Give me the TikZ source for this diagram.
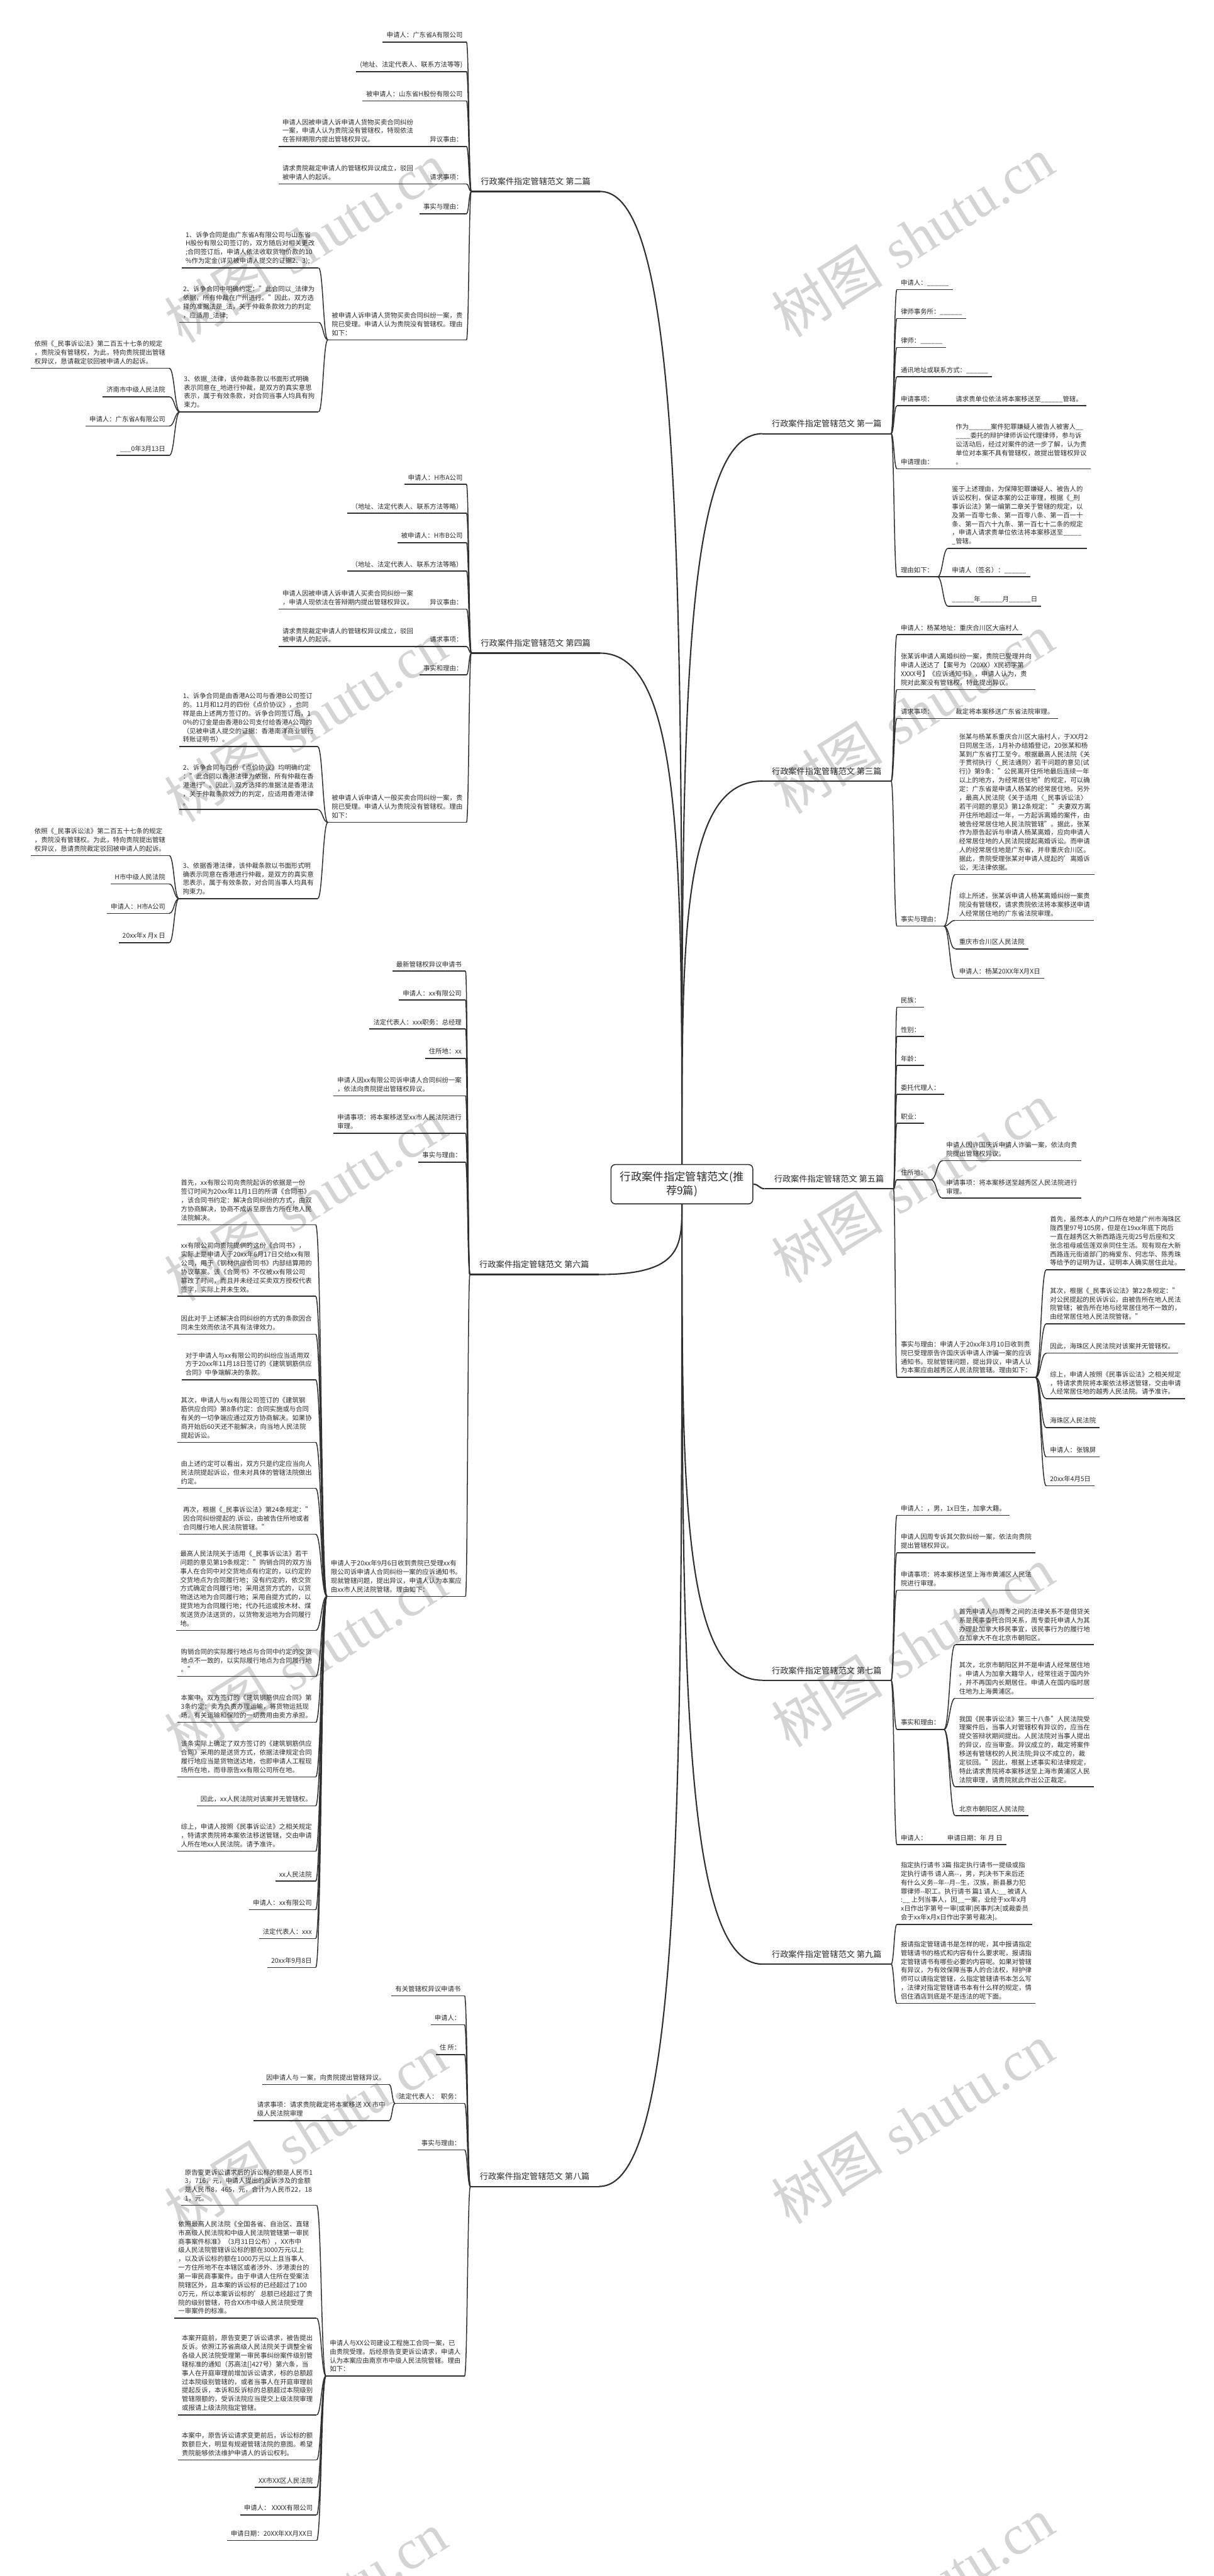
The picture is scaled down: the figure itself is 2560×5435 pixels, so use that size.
\documentclass[tikz,border=0pt]{standalone}
\usepackage{fontspec}
\setmainfont{Noto Sans CJK SC}
\newfontfamily\wmlatin{Liberation Serif}
\usetikzlibrary{calc}
\definecolor{txt}{HTML}{2B2B2B}
\definecolor{ln}{HTML}{303030}
\definecolor{wm}{HTML}{D4D4D4}
\newcommand\lff{\fontsize{13.8pt}{18.4pt}\selectfont}
\newcommand\bff{\fontsize{17.5pt}{23pt}\selectfont}
\newcommand\cff{\fontsize{23pt}{30pt}\selectfont}
\newcommand\wmf{\fontsize{118pt}{118pt}\selectfont}
\newcommand\mybl{\_\_\_\_\_\_}
\begin{document}
\begin{tikzpicture}[x=1pt,y=-1pt,
  ul/.style={draw=ln,line width=2pt},
  bul/.style={draw=ln,line width=2.8pt},
  lf/.style={inner xsep=8pt,inner ysep=3.7pt,align=left,font=\lff,text=txt,
    execute at end node={\strut},
    append after command={(\tikzlastnode.south west) edge[ul] (\tikzlastnode.south east)}},
  lnl/.style={lf,anchor=south east},
  lnr/.style={lf,anchor=south west},
  lab/.style={inner xsep=20pt,inner ysep=6.95pt,align=left,font=\bff,text=txt,
    execute at end node={\strut},
    append after command={(\tikzlastnode.south west) edge[bul] (\tikzlastnode.south east)}},
  labl/.style={lab,anchor=south east},
  labr/.style={lab,anchor=south west},
  sp/.style={to path={let \p1=(\tikztostart), \p2=(\tikztotarget) in
     .. controls ({(\x1+\x2)/2},\y1) and ({(\x1+\x2)/2},\y2) .. (\tikztotarget)}},
  cn/.style={sp,draw=ln,line width=2pt},
  br/.style={draw=ln,line width=2.8pt},
  ctrbox/.style={draw=ln,line width=2pt,rounded corners=9pt,fill=white,
    minimum width=299pt,minimum height=83pt,align=center,font=\cff,text=txt,inner sep=0pt},
  wmk/.style={rotate=32,text=wm,font=\wmf,inner sep=0pt}
]
\useasboundingbox (0,0) rectangle (2560,5435);
\fill[white] (0,0) rectangle (2560,5435);

% watermarks
\foreach \x/\y [count=\i] in {645/512,645/1522,645/2533,645/3500,645/4500,645/5510,
  1925/500,1925/1505,1925/2495,1925/3475,1925/4480,1925/5480}
  \node[wmk,name=wm\i] at (\x,\y) {树图\hspace{0.3em}{\wmlatin shutu.cn}};

% centre
\node[ctrbox] (ctr) at (1438.5,2498.5) {行政案件指定管辖范文(推\\荐9篇)};

% ---------------- 第二篇 ----------------
\node[labl] (L2) at (1266,404) {行政案件指定管辖范文 第二篇};
\node[lnl] (a2) at (984,89) {申请人：广东省A有限公司};
\node[lnl] (b2) at (984,151) {(地址、法定代表人、联系方法等等)};
\node[lnl] (c2) at (984,213) {被申请人：山东省H股份有限公司};
\node[lnl] (d2) at (984,309) {异议事由：};
\node[lnl] (d2c) at (880,309) {申请人因被申请人诉申请人货物买卖合同纠纷\\一案，申请人认为贵院没有管辖权，特现依法\\在答辩期限内提出管辖权异议。};
\node[lnl] (e2) at (984,388) {请求事项：};
\node[lnl] (e2c) at (880,388) {请求贵院裁定申请人的管辖权异议成立，驳回\\被申请人的起诉。};
\node[lnl] (f2) at (984,451) {事实与理由：};
\node[lnl] (g2) at (984,717) {被申请人诉申请人货物买卖合同纠纷一案，贵\\院已受理。申请人认为贵院没有管辖权。理由\\如下：};
\node[lnl] (g2a) at (672,565) {1、诉争合同是由广东省A有限公司与山东省\\H股份有限公司签订的，双方随后对相关更改\\;合同签订后，申请人依法收取货物价款的10\\\%作为定金(详见被申请人提交的证据2、3);};
\node[lnl] (g2b) at (672,680) {2、诉争合同中明确约定："此合同以\_法律为\\依据，所有仲裁在广州进行。"因此，双方选\\择的准据法是\_法，关于仲裁条款效力的判定\\，应适用\_法律;};
\node[lnl] (g2c) at (672,869) {3、依据\_法律，该仲裁条款以书面形式明确\\表示同意在\_地进行仲裁，是双方的真实意思\\表示，属于有效条款，对合同当事人均具有拘\\束力。};
\node[lnl] (h21) at (357,777) {依照《\_民事诉讼法》第二百五十七条的规定\\，贵院没有管辖权，为此，特向贵院提出管辖\\权异议，恳请裁定驳回被申请人的起诉。};
\node[lnl] (h22) at (357,837) {济南市中级人民法院};
\node[lnl] (h23) at (357,899) {申请人：广东省A有限公司};
\node[lnl] (h24) at (357,961) {\_\_\_0年3月13日};
\foreach \c in {a2,b2,c2,d2,e2,f2,g2} \draw[cn] (L2.south west) to (\c.south east);
\draw[cn] (d2.south west) to (d2c.south east);
\draw[cn] (e2.south west) to (e2c.south east);
\foreach \c in {g2a,g2b,g2c} \draw[cn] (g2.south west) to (\c.south east);
\foreach \c in {h21,h22,h23,h24} \draw[cn] (g2c.south west) to (\c.south east);

% ---------------- 第四篇 ----------------
\node[labl] (L4) at (1266,1378) {行政案件指定管辖范文 第四篇};
\node[lnl] (a4) at (984,1022) {申请人：H市A公司};
\node[lnl] (b4) at (984,1083) {（地址、法定代表人、联系方法等略）};
\node[lnl] (c4) at (984,1145) {被申请人：H市B公司};
\node[lnl] (d4) at (984,1205) {（地址、法定代表人、联系方法等略）};
\node[lnl] (e4) at (984,1285) {异议事由：};
\node[lnl] (e4c) at (880,1285) {申请人因被申请人诉申请人买卖合同纠纷一案\\，申请人现依法在答辩期内提出管辖权异议。};
\node[lnl] (f4) at (984,1364) {请求事项：};
\node[lnl] (f4c) at (880,1364) {请求贵院裁定申请人的管辖权异议成立，驳回\\被申请人的起诉。};
\node[lnl] (g4) at (984,1424) {事实和理由：};
\node[lnl] (h4) at (984,1735) {被申请人诉申请人一般买卖合同纠纷一案，贵\\院已受理。申请人认为贵院没有管辖权。理由\\如下：};
\node[lnl] (h4a) at (670,1575) {1、诉争合同是由香港A公司与香港B公司签订\\的。11月和12月的四份《点价协议》，也同\\样是由上述两方签订的。诉争合同签订后，1\\0\%的订金是由香港B公司支付给香港A公司的\\（见被申请人提交的证据：香港南洋商业银行\\转账证明书）。};
\node[lnl] (h4b) at (670,1708) {2、诉争合同与四份《点价协议》均明确约定\\："此合同以香港法律为依据，所有仲裁在香\\港进行"。因此，双方选择的准据法是香港法\\，关于仲裁条款效力的判定，应适用香港法律\\。};
\node[lnl] (h4c) at (670,1896) {3、依据香港法律，该仲裁条款以书面形式明\\确表示同意在香港进行仲裁，是双方的真实意\\思表示，属于有效条款，对合同当事人均具有\\拘束力。};
\node[lnl] (j41) at (357,1805) {依照《\_民事诉讼法》第二百五十七条的规定\\，贵院没有管辖权。为此，特向贵院提出管辖\\权异议，恳请贵院裁定驳回被申请人的起诉。};
\node[lnl] (j42) at (357,1865) {H市中级人民法院};
\node[lnl] (j43) at (357,1927) {申请人：H市A公司};
\node[lnl] (j44) at (357,1989) {20xx年x 月x 日};
\foreach \c in {a4,b4,c4,d4,e4,f4,g4,h4} \draw[cn] (L4.south west) to (\c.south east);
\draw[cn] (e4.south west) to (e4c.south east);
\draw[cn] (f4.south west) to (f4c.south east);
\foreach \c in {h4a,h4b,h4c} \draw[cn] (h4.south west) to (\c.south east);
\foreach \c in {j41,j42,j43,j44} \draw[cn] (h4c.south west) to (\c.south east);

% ---------------- 第六篇 ----------------
\node[labl] (L6) at (1263,2689) {行政案件指定管辖范文 第六篇};
\node[lnl] (a6) at (982,2049) {最新管辖权异议申请书};
\node[lnl] (b6) at (982,2110) {申请人：xx有限公司};
\node[lnl] (c6) at (982,2171) {法定代表人：xxx职务：总经理};
\node[lnl] (d6) at (982,2233) {住所地：xx};
\node[lnl] (e6) at (982,2312) {申请人因xx有限公司诉申请人合同纠纷一案\\，依法向贵院提出管辖权异议。};
\node[lnl] (f6) at (982,2391) {申请事项：将本案移送至xx市人民法院进行\\审理。};
\node[lnl] (g6) at (982,2452) {事实与理由：};
\node[lnl] (h6) at (982,3368) {申请人于20xx年9月6日收到贵院已受理xx有\\限公司诉申请人合同纠纷一案的应诉通知书。\\现就管辖问题，提出异议，申请人认为本案应\\由xx市人民法院管辖。理由如下：};
\node[lnl] (k1) at (666,2584) {首先，xx有限公司向贵院起诉的依据是一份\\签订时间为20xx年11月1日的所谓《合同书》\\，该合同书约定：解决合同纠纷的方式，由双\\方协商解决，协商不成诉至原告方所在地人民\\法院解决。};
\node[lnl] (k2) at (666,2735) {xx有限公司向贵院提供的这份《合同书》，\\实际上是申请人于20xx年6月17日交给xx有限\\公司，用于《钢材供应合同书》内部结算用的\\协议草案。该《合同书》不仅被xx有限公司\\篡改了时间，而且并未经过买卖双方授权代表\\签字，实际上并未生效。};
\node[lnl] (k3) at (666,2815) {因此对于上述解决合同纠纷的方式的条款因合\\同未生效而依法不具有法律效力。};
\node[lnl] (k4) at (666,2911) {对于申请人与xx有限公司的纠纷应当适用双\\方于20xx年11月18日签订的《建筑钢筋供应\\合同》中争端解决的条款。};
\node[lnl] (k5) at (666,3043) {其次，申请人与xx有限公司签订的《建筑钢\\筋供应合同》第8条约定：合同实施或与合同\\有关的一切争端应通过双方协商解决。如果协\\商开始后60天还不能解决，向当地人民法院\\提起诉讼。};
\node[lnl] (k6) at (666,3140) {由上述约定可以看出，双方只是约定应当向人\\民法院提起诉讼，但未对具体的管辖法院做出\\约定。};
\node[lnl] (k7) at (666,3237) {再次，根据《\_民事诉讼法》第24条规定："\\因合同纠纷提起的.诉讼，由被告住所地或者\\合同履行地人民法院管辖。"};
\node[lnl] (k8) at (666,3440) {最高人民法院关于适用《\_民事诉讼法》若干\\问题的意见第19条规定："购销合同的双方当\\事人在合同中对交货地点有约定的，以约定的\\交货地点为合同履行地；没有约定的，依交货\\方式确定合同履行地；采用送货方式的，以货\\物送达地为合同履行地；采用自提方式的，以\\提货地为合同履行地；代办托运或按木材、煤\\炭送货办法送货的，以货物发运地为合同履行\\地。};
\node[lnl] (k9) at (666,3537) {购销合同的实际履行地点与合同中约定的交货\\地点不一致的，以实际履行地点为合同履行地\\。"};
\node[lnl] (k10) at (666,3634) {本案中，双方签订的《建筑钢筋供应合同》第\\3条约定：卖方负责办理运输，将货物运抵现\\场。有关运输和保险的一切费用由卖方承担。};
\node[lnl] (k11) at (666,3749) {该条实际上确定了双方签订的《建筑钢筋供应\\合同》采用的是送货方式，依据法律规定合同\\履行地应当是货物送达地，也即申请人工程现\\场所在地，而非原告xx有限公司所在地。};
\node[lnl] (k12) at (666,3810) {因此，xx人民法院对该案并无管辖权。};
\node[lnl] (k13) at (666,3906) {综上，申请人按照《民事诉讼法》之相关规定\\，特请求贵院将本案依法移送管辖，交由申请\\人所在地xx人民法院。请予准许。};
\node[lnl] (k14) at (666,3969) {xx人民法院};
\node[lnl] (k15) at (666,4029) {申请人：xx有限公司};
\node[lnl] (k16) at (666,4090) {法定代表人：xxx};
\node[lnl] (k17) at (666,4151) {20xx年9月8日};
\foreach \c in {a6,b6,c6,d6,e6,f6,g6,h6} \draw[cn] (L6.south west) to (\c.south east);
\foreach \c in {k1,k2,k3,k4,k5,k6,k7,k8,k9,k10,k11,k12,k13,k14,k15,k16,k17}
  \draw[cn] (h6.south west) to (\c.south east);

% ---------------- 第八篇 ----------------
\node[labl] (L8) at (1264,4613) {行政案件指定管辖范文 第八篇};
\node[lnl] (a8) at (980,4211) {有关管辖权异议申请书};
\node[lnl] (b8) at (980,4272) {申请人：};
\node[lnl] (c8) at (980,4335) {住 所：};
\node[lnl] (d8) at (980,4438) {法定代表人：~~职务：};
\node[lnl] (d8a) at (821,4398) {因申请人与 一案，向贵院提出管辖异议。};
\node[lnl] (d8b) at (821,4474) {请求事项：请求贵院裁定将本案移送 XX 市中\\级人民法院审理};
\node[lnl] (e8) at (980,4536) {事实与理由：};
\node[lnl] (f8) at (980,5013) {申请人与XX公司建设工程施工合同一案，已\\由贵院受理。后经原告变更诉讼请求，申请人\\认为本案应由南京市中级人民法院管辖。理由\\如下：};
\node[lnl] (m1) at (668,4653) {原告变更诉讼请求后的诉讼标的额是人民币1\\3，716，元，申请人提出的反诉涉及的金额\\是人民币8，465，元，合计为人民币22，18\\1，元。};
\node[lnl] (m2) at (668,4891) {依照最高人民法院《全国各省、自治区、直辖\\市高级人民法院和中级人民法院管辖第一审民\\商事案件标准》（3月31日公布），XX市中\\级人民法院管辖诉讼标的额在3000万元以上\\，以及诉讼标的额在1000万元以上且当事人\\一方住所地不在本辖区或者涉外、涉港澳台的\\第一审民商事案件。由于申请人住所在受案法\\院辖区外，且本案的诉讼标的已经超过了100\\0万元，所以本案诉讼标的'总额已经超过了贵\\院的级别管辖，符合XX市中级人民法院受理\\一审案件的标准。};
\node[lnl] (m3) at (668,5095) {本案开庭前，原告变更了诉讼请求，被告提出\\反诉。依照江苏省高级人民法院关于调整全省\\各级人民法院受理第一审民事纠纷案件级别管\\辖标准的通知（苏高法[]427号）第六条，当\\事人在开庭审理前增加诉讼请求，标的总额超\\过本院级别管辖的，或者当事人在开庭审理前\\提起反诉，本诉和反诉标的总额超过本院级别\\管辖限额的，受诉法院应当提交上级法院审理\\或报请上级法院指定管辖。};
\node[lnl] (m4) at (668,5190) {本案中，原告诉讼请求变更前后，诉讼标的额\\数额巨大，明显有规避管辖法院的意图。希望\\贵院能够依法维护申请人的诉讼权利。};
\node[lnl] (m5) at (668,5248) {XX市XX区人民法院};
\node[lnl] (m6) at (668,5306) {申请人： XXXX有限公司};
\node[lnl] (m7) at (668,5360) {申请日期：20XX年XX月XX日};
\foreach \c in {a8,b8,c8,d8,e8,f8} \draw[cn] (L8.south west) to (\c.south east);
\foreach \c in {d8a,d8b} \draw[cn] (d8.south west) to (\c.south east);
\foreach \c in {m1,m2,m3,m4,m5,m6,m7} \draw[cn] (f8.south west) to (\c.south east);

% ---------------- 第一篇 ----------------
\node[labr] (R1) at (1608,915) {行政案件指定管辖范文 第一篇};
\node[lnr] (a1) at (1892,611) {申请人：\mybl};
\node[lnr] (b1) at (1892,672) {律师事务所：\mybl};
\node[lnr] (c1) at (1892,733) {律师：\mybl};
\node[lnr] (d1) at (1892,795) {通讯地址或联系方式：\mybl};
\node[lnr] (e1) at (1892,856) {申请事项：};
\node[lnr] (e1c) at (2008,856) {请求贵单位依法将本案移送至\mybl{}管辖。};
\node[lnr] (f1) at (1892,989) {申请理由：};
\node[lnr] (f1c) at (2008,989) {作为\mybl{}案件犯罪嫌疑人被告人被害人\_\_\\\_\_\_\_委托的辩护律师诉讼代理律师，参与诉\\讼活动后，经过对案件的进一步了解，认为贵\\单位对本案不具有管辖权，故提出管辖权异议\\。};
\node[lnr] (g1) at (1892,1217) {理由如下：};
\node[lnr] (g1a) at (2000,1157) {鉴于上述理由，为保障犯罪嫌疑人、被告人的\\诉讼权利，保证本案的公正审理，根据《\_刑\\事诉讼法》第一编第二章关于管辖的规定，以\\及第一百零七条、第一百零八条、第一百一十\\条、第一百六十九条、第一百七十二条的规定\\，申请人请求贵单位依法将本案移送至\_\_\_\_\_\\\_管辖。};
\node[lnr] (g1b) at (2000,1217) {申请人（签名）：\mybl};
\node[lnr] (g1c) at (2000,1279) {\mybl{}年\mybl{}月\mybl{}日};
\foreach \c in {a1,b1,c1,d1,e1,f1,g1} \draw[cn] (R1.south east) to (\c.south west);
\draw[cn] (e1.south east) to (e1c.south west);
\draw[cn] (f1.south east) to (f1c.south west);
\foreach \c in {g1a,g1b,g1c} \draw[cn] (g1.south east) to (\c.south west);

% ---------------- 第三篇 ----------------
\node[labr] (R3) at (1608,1648) {行政案件指定管辖范文 第三篇};
\node[lnr] (a3) at (1892,1339) {申请人：杨某地址：重庆合川区大庙村人};
\node[lnr] (b3) at (1892,1455) {张某诉申请人离婚纠纷一案，贵院已受理并向\\申请人送达了【案号为（20XX）X民初字第\\XXXX号】《应诉通知书》，申请人认为，贵\\院对此案没有管辖权，特此提出异议。};
\node[lnr] (c3) at (1892,1516) {请求事项：};
\node[lnr] (c3c) at (2008,1516) {裁定将本案移送广东省法院审理。};
\node[lnr] (d3) at (1892,1954) {事实与理由：};
\node[lnr] (d3a) at (2015,1845) {张某与杨某系重庆合川区大庙村人，于XX月2\\日同居生活，1月补办结婚登记，20张某和杨\\某到广东省打工至今。根据最高人民法院《关\\于贯彻执行〈\_民法通则〉若干问题的意见(试\\行)》第9条："公民离开住所地最后连续一年\\以上的地方，为经常居住地"的规定，可以确\\定：广东省是申请人杨某的经常居住地。另外\\，最高人民法院《关于适用〈\_民事诉讼法〉\\若干问题的意见》第12条规定："夫妻双方离\\开住所地超过一年，一方起诉离婚的案件，由\\被告经常居住地人民法院管辖"。据此，张某\\作为原告起诉与申请人杨某离婚，应向申请人\\经常居住地的人民法院提起离婚诉讼。而申请\\人的经常居住地是广东省，并非重庆合川区。\\据此，贵院受理张某对申请人提起的'离婚诉\\讼，无法律依据。};
\node[lnr] (d3b) at (2015,1942) {综上所述，张某诉申请人杨某离婚纠纷一案贵\\院没有管辖权，请求贵院依法将本案移送申请\\人经常居住地的广东省法院审理。};
\node[lnr] (d3c) at (2015,2002) {重庆市合川区人民法院};
\node[lnr] (d3d) at (2015,2064) {申请人：杨某20XX年X月X日};
\foreach \c in {a3,b3,c3,d3} \draw[cn] (R3.south east) to (\c.south west);
\draw[cn] (c3.south east) to (c3c.south west);
\foreach \c in {d3a,d3b,d3c,d3d} \draw[cn] (d3.south east) to (\c.south west);

% ---------------- 第五篇 ----------------
\node[labr] (R5) at (1613,2508) {行政案件指定管辖范文 第五篇};
\node[lnr] (a5) at (1892,2125) {民族：};
\node[lnr] (b5) at (1892,2187) {性别：};
\node[lnr] (c5) at (1892,2248) {年龄：};
\node[lnr] (d5) at (1892,2309) {委托代理人：};
\node[lnr] (e5) at (1892,2370) {职业：};
\node[lnr] (f5) at (1892,2489) {住所地：};
\node[lnr] (f5a) at (1988,2449) {申请人因许国庆诉申请人诈骗一案，依法向贵\\院提出管辖权异议。};
\node[lnr] (f5b) at (1988,2528) {申请事项：将本案移送至越秀区人民法院进行\\审理。};
\node[lnr] (g5) at (1892,2906) {事实与理由：申请人于20xx年3月10日收到贵\\院已受理原告许国庆诉申请人诈骗一案的应诉\\通知书。现就管辖问题，提出异议，申请人认\\为本案应由越秀区人民法院管辖。理由如下：};
\node[lnr] (g5a) at (2207,2679) {首先，虽然本人的户口所在地是广州市海珠区\\陇西里97号105房，但是在19xx年底下岗后\\一直在越秀区大新西路连元街25号后座和文\\张念祖母戚伍莲双亲同住生活。现有现在大新\\西路连元街道部门的梅爱东、何志华、陈秀珠\\等给予的证明为证，证明本人确实居住此址。};
\node[lnr] (g5b) at (2207,2793) {其次，根据《\_民事诉讼法》第22条规定："\\对公民提起的民诉诉讼，由被告所在地人民法\\院管辖；被告所在地与经常居住地不一致的，\\由经常居住地人民法院管辖。"};
\node[lnr] (g5c) at (2207,2855) {因此，海珠区人民法院对该案并无管辖权。};
\node[lnr] (g5d) at (2207,2951) {综上，申请人按照《民事诉讼法》之相关规定\\，特请求贵院将本案依法移送管辖，交由申请\\人经常居住地的越秀人民法院。请予准许。};
\node[lnr] (g5e) at (2207,3012) {海珠区人民法院};
\node[lnr] (g5f) at (2207,3074) {申请人：张锦屏};
\node[lnr] (g5g) at (2207,3135) {20xx年4月5日};
\foreach \c in {a5,b5,c5,d5,e5,f5,g5} \draw[cn] (R5.south east) to (\c.south west);
\foreach \c in {f5a,f5b} \draw[cn] (f5.south east) to (\c.south west);
\foreach \c in {g5a,g5b,g5c,g5d,g5e,g5f,g5g} \draw[cn] (g5.south east) to (\c.south west);

% ---------------- 第七篇 ----------------
\node[labr] (R7) at (1608,3545) {行政案件指定管辖范文 第七篇};
\node[lnr] (a7) at (1892,3197) {申请人：，男，1x日生，加拿大籍。};
\node[lnr] (b7) at (1892,3276) {申请人因周专诉其欠款纠纷一案，依法向贵院\\提出管辖权异议。};
\node[lnr] (c7) at (1892,3355) {申请事项：将本案移送至上海市黄浦区人民法\\院进行审理。};
\node[lnr] (d7) at (1892,3649) {事实和理由：};
\node[lnr] (d7a) at (2015,3470) {首先申请人与周专之间的法律关系不是借贷关\\系是民事委托合同关系，周专委托申请人为其\\办理赴加拿大移民事宜，该民事行为的履行地\\在加拿大不在北京市朝阳区。};
\node[lnr] (d7b) at (2015,3583) {其次，北京市朝阳区并不是申请人经常居住地\\。申请人为加拿大籍华人，经常往返于国内外\\，并不再国内长期居住。申请人在国内临时居\\住地为上海黄浦区。};
\node[lnr] (d7c) at (2015,3770) {我国《民事诉讼法》第三十八条"人民法院受\\理案件后，当事人对管辖权有异议的，应当在\\提交答辩状期间提出。人民法院对当事人提出\\的异议，应当审查。异议成立的，裁定将案件\\移送有管辖权的人民法院;异议不成立的，裁\\定驳回。"因此，根据上述事实和法律规定，\\特此请求贵院将本案移送至上海市黄浦区人民\\法院审理，请贵院就此作出公正裁定。};
\node[lnr] (d7d) at (2015,3831) {北京市朝阳区人民法院};
\node[lnr] (e7) at (1892,3892) {申请人：};
\node[lnr] (e7c) at (1990,3892) {申请日期：年 月 日};
\foreach \c in {a7,b7,c7,d7,e7} \draw[cn] (R7.south east) to (\c.south west);
\foreach \c in {d7a,d7b,d7c,d7d} \draw[cn] (d7.south east) to (\c.south west);
\draw[cn] (e7.south east) to (e7c.south west);

% ---------------- 第九篇 ----------------
\node[labr] (R9) at (1608,4144) {行政案件指定管辖范文 第九篇};
\node[lnr] (a9) at (1892,4060) {指定执行请书 3篇 指定执行请书一提级或指\\定执行请书 请人高-{}-，男，判决书下来后还\\有什么义务-{}-年-{}-月-{}-生，汉族，新县暴力犯\\罪律师-{}-职工。执行请书 篇1 请人:\_\_ 被请人\\:\_\_ 上列当事人，因\_\_一案，业经于xx年x月\\x日作出字第号一审(或审)民事判决[或裁委员\\会于xx年x月x日作出字第号裁决]。};
\node[lnr] (b9) at (1892,4227) {报请指定管辖请书是怎样的呢，其中报请指定\\管辖请书的格式和内容有什么要求呢，报请指\\定管辖请书有哪些必要的内容呢。如果对管辖\\有异议，为有效保障当事人的合法权，辩护律\\师可以请指定管辖，么指定管辖请书本怎么写\\，法律对指定管辖请书本有什么样的规定，情\\侣住酒店到底是不是违法的呢下面。};
\foreach \c in {a9,b9} \draw[cn] (R9.south east) to (\c.south west);

% ---------------- main branches ----------------
\draw[br] (ctr.north) .. controls (1438.5,1225) and (1438.5,404) .. (L2.south east);
\draw[br] (ctr.north) .. controls (1438.5,1810) and (1438.5,1378) .. (L4.south east);
\draw[br] (ctr.north) .. controls (1438.5,1532) and (1438.5,915) .. (R1.south west);
\draw[br] (ctr.north) .. controls (1438.5,1972) and (1438.5,1648) .. (R3.south west);
\draw[br] (ctr.south) .. controls (1438.5,2629) and (1438.5,2689) .. (L6.south east);
\draw[br] (ctr.south) .. controls (1438.5,3784) and (1438.5,4613) .. (L8.south east);
\draw[br] (ctr.south) .. controls (1438.5,3143) and (1438.5,3545) .. (R7.south west);
\draw[br] (ctr.south) .. controls (1438.5,3502) and (1438.5,4144) .. (R9.south west);
\draw[br,sp] (ctr.east) to (R5.south west);
\end{tikzpicture}
\end{document}
